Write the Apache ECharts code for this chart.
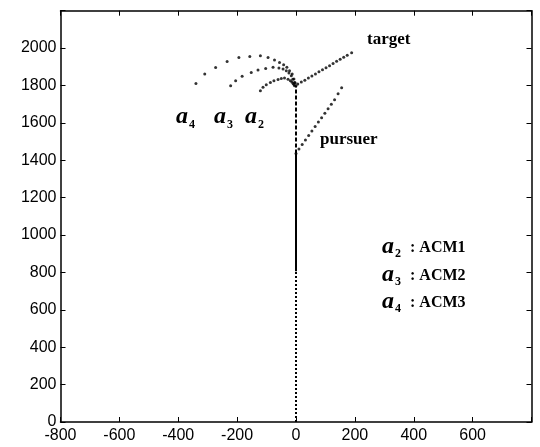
<!DOCTYPE html>
<html>
<head>
<meta charset="utf-8">
<script src="https://cdn.jsdelivr.net/npm/echarts@6/dist/echarts.min.js"></script>
<style>html,body{margin:0;padding:0;background:#fff}#c{width:540px;height:447px}</style>
</head>
<body>
<div id="c"></div>
<script>
// ---- data ----
const xRange = [-800, 800];
const yRange = [0, 2200];
const targetPts = [[0,1799],[6,1808],[18,1818],[30,1828],[42,1840],[54,1851],[66,1862],[78,1873],[90,1884],[102,1895],[114,1906],[126,1918],[138,1929],[150,1940],[162,1951],[174,1962],[189,1975]];
const pursuerPts = [[0,1436],[10,1460],[21,1484],[32,1508],[43,1532],[54,1556],[65,1580],[76,1604],[87,1628],[98,1652],[109,1676],[120,1700],[131,1724],[143,1756],[155,1788]];
const a2Pts = [[-121,1772],[-112,1790],[-101,1804],[-87,1816],[-75,1825],[-61,1832],[-50,1838],[-39,1840],[-27,1834],[-19,1825],[-14,1818],[-10,1811],[-7,1805],[-5,1799]];
const a3Pts = [[-222,1799],[-205,1825],[-183,1850],[-152,1870],[-129,1883],[-103,1891],[-78,1897],[-58,1893],[-44,1888],[-33,1879],[-24,1867],[-16,1852],[-11,1834],[-5,1816]];
const a4Pts = [[-340,1811],[-310,1861],[-273,1896],[-234,1928],[-194,1950],[-157,1955],[-121,1959],[-95,1950],[-73,1936],[-56,1923],[-42,1911],[-31,1897],[-22,1879],[-13,1861],[-7,1835],[-3,1815]];
const vertDotted = [[0,0],[0,807]];
const vertSolid = [[0,807],[0,1436]];
const vertDashed = [[0,1436],[0,1799]];
const curveNames = ['a4','a3','a2'];
const legendRows = [['2',': ACM1'],['3',': ACM2'],['4',': ACM3']];

const chart = echarts.init(document.getElementById('c'), null, {renderer:'canvas'});
const axisLine = {show:true, onZero:false, lineStyle:{color:'#000', width:1.5}};
const tick = {show:true, inside:true, length:5, lineStyle:{color:'#000', width:1}};
const labelFont = {color:'#000', fontSize:16, fontFamily:'"Liberation Sans", Arial, sans-serif'};

function dots(data){
  return {type:'scatter', data:data, symbol:'circle', symbolSize:3,
    itemStyle:{color:'#000'}, silent:true, z:3};
}
function seg(data, type){
  return {type:'line', data:data, symbol:'none', silent:true,
    lineStyle:{color:'#000', width:2, type:type}, z:2};
}

const option = {
  animation:false,
  backgroundColor:'#fff',
  grid:{left:60.5, right:8.5, top:10.7, bottom:25, containLabel:false},
  xAxis:[
    {type:'value', position:'bottom', min:xRange[0], max:xRange[1], interval:200,
      axisLine:axisLine, axisTick:tick, splitLine:{show:false},
      axisLabel:Object.assign({margin:6, formatter:v=> v===800?'':String(v)}, labelFont)},
    {type:'value', position:'top', min:xRange[0], max:xRange[1], interval:200,
      axisLine:axisLine, axisTick:tick, splitLine:{show:false}, axisLabel:{show:false}}
  ],
  yAxis:[
    {type:'value', position:'left', min:yRange[0], max:yRange[1], interval:200,
      axisLine:axisLine, axisTick:tick, splitLine:{show:false},
      axisLabel:Object.assign({margin:4, formatter:v=> v===2200?'':String(v)}, labelFont)},
    {type:'value', position:'right', min:yRange[0], max:yRange[1], interval:200,
      axisLine:axisLine, axisTick:tick, splitLine:{show:false}, axisLabel:{show:false}}
  ],
  series:[
    seg(vertDotted, [2,2]),
    seg(vertSolid, 'solid'),
    seg(vertDashed, [4,2]),
    dots(targetPts),
    dots(pursuerPts),
    dots(a2Pts),
    dots(a3Pts),
    dots(a4Pts)
  ]
};
chart.setOption(option);

// ---- annotations ----
const serif = '"Liberation Serif", "Times New Roman", serif';
const g = [];
function txt(x, y, text, font){
  g.push({type:'text', x:x, y:y, silent:true,
    style:{text:text, font:font, fill:'#000', align:'left', verticalAlign:'middle',
      textAlign:'left', textVerticalAlign:'middle'}});
}
txt(367, 40, 'target', 'bold 17px ' + serif);
txt(320, 140, 'pursuer', 'bold 17px ' + serif);
const aX = [176, 214, 245];
curveNames.forEach((n,i)=>{
  txt(aX[i], 117, 'a', 'bold italic 24px ' + serif);
  txt(aX[i] + 13, 125, n.slice(1), 'bold 12px ' + serif);
});
const rowY = [248, 276, 303];
legendRows.forEach((r,i)=>{
  txt(382, rowY[i] - 1, 'a', 'bold italic 24px ' + serif);
  txt(395, rowY[i] + 6, r[0], 'bold 12px ' + serif);
  txt(410, rowY[i], r[1], 'bold 16px ' + serif);
});
chart.setOption({graphic:g});
</script>
</body>
</html>
